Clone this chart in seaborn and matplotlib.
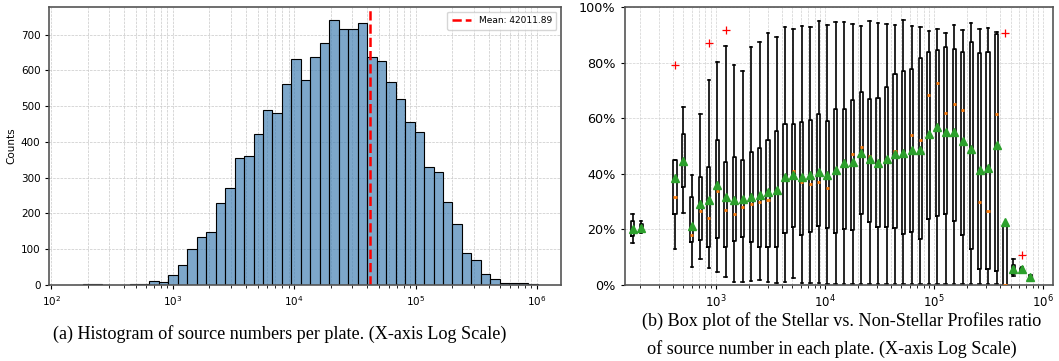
import numpy as np
import matplotlib
matplotlib.use('Agg')
import matplotlib.pyplot as plt
import seaborn as sns
from matplotlib.ticker import PercentFormatter, LogLocator


# ---------------------------------------------- Data -----------------------------------------------

# (a) histogram: counts per log bin of source numbers
hist_lo, hist_hi = 2.183, 6.006     # log10 range of the bins
hist_counts = [0, 2, 2, 0, 0, 0, 3, 2, 11, 9,
               27, 56, 100, 134, 147, 228, 270, 354, 360, 423,
               490, 482, 561, 632, 573, 637, 677, 740, 716, 717,
               733, 637, 627, 567, 520, 455, 429, 330, 316, 232,
               170, 90, 70, 30, 16, 5, 5, 5, 2]
mean_sources = 42011.89

# (b) box plot: stellar / non-stellar ratio (%) per log bin of source number
ratio_first, ratio_step = 2.236, 0.07755   # log10 centre of bin 0 and bin step
box_bin = [0, 1, 5, 6, 7, 8, 9, 10, 11, 12, 13, 14, 15, 16, 17, 18, 19, 20, 21, 22,
           23, 24, 25, 26, 27, 28, 29, 30, 31, 32, 33, 34, 35, 36, 37, 38, 39, 40,
           41, 42, 43, 44, 45, 46, 47]
whis_low = [15.2, 18.6, 12.8, 25.8, 6.4, 9.4, 6.0, 4.6, 2.8, 1.0, 1.0, 1.6, 1.8, 1.2, 0.6,
            1.2, 2.4, 0.6, 0.6, 0.6, 0.4, 0.4, 0.4, 0.4, 0.4, 0.4, 0.4, 0.4, 0.4, 0.4,
            0.4, 0.4, 0.4, 0.4, 0.4, 0.4, 0.4, 0.4, 0.4, 0.4, 0.4, 0.0, 3.2, 4.5, 2.0]
q1 = [17.6, 19.8, 25.5, 35.4, 15.4, 16.2, 13.8, 16.8, 13.8, 16.0, 17.2, 15.4, 13.8, 13.6, 13.6,
      18.6, 21.0, 18.0, 19.0, 21.4, 20.4, 18.8, 20.3, 19.8, 25.5, 22.6, 21.0, 21.0, 20.6, 18.4,
      19.0, 16.4, 23.8, 25.0, 25.7, 23.0, 18.0, 13.0, 5.6, 5.9, 5.0, 0.0, 4.0, 5.0, 2.5]
median = [19.5, 20.5, 31.8, 44.5, 18.1, 26.8, 24.2, 33.7, 27.0, 25.6, 27.9, 29.2, 29.8, 30.6, 33.0,
          38.5, 41.1, 37.0, 36.3, 37.2, 34.8, 41.0, 43.5, 47.3, 49.5, 46.5, 44.0, 45.5, 48.3, 47.5,
          54.0, 52.1, 68.3, 72.7, 61.9, 65.2, 63.0, 49.0, 29.7, 26.5, 61.6, 0.0, 5.5, 5.5, 2.8]
q3 = [23.0, 22.0, 45.0, 54.3, 31.8, 38.9, 42.3, 52.1, 44.4, 46.0, 45.0, 48.0, 49.2, 52.2, 55.5,
      57.9, 58.1, 58.6, 59.2, 61.6, 59.1, 63.3, 63.4, 66.4, 69.3, 67.0, 67.3, 71.4, 75.9, 77.1,
      77.8, 81.6, 83.8, 84.4, 85.5, 85.0, 84.0, 87.6, 83.4, 83.9, 90.3, 21.2, 7.2, 6.0, 3.2]
whis_high = [25.5, 23.0, 45.0, 64.0, 39.5, 61.7, 73.6, 80.1, 86.1, 79.2, 77.1, 85.5, 87.3, 90.6, 89.4,
             92.7, 92.1, 93.0, 92.8, 94.8, 93.6, 94.5, 94.5, 94.0, 93.3, 94.8, 94.2, 94.0, 93.6, 95.4,
             93.0, 92.7, 91.5, 92.2, 90.8, 93.4, 91.7, 94.2, 92.2, 92.4, 91.0, 21.2, 9.2, 6.5, 3.5]
mean_ratio = [20.0, 20.6, 38.4, 44.7, 21.2, 29.2, 30.6, 35.9, 31.5, 30.6, 31.0, 31.8, 32.4, 33.6, 34.3,
              38.8, 39.6, 39.0, 39.4, 40.5, 39.4, 41.4, 43.8, 44.1, 47.4, 45.4, 43.8, 45.4, 47.1, 47.4,
              48.4, 48.4, 54.4, 56.8, 55.2, 55.2, 51.9, 48.9, 41.2, 42.0, 50.2, 22.8, 5.6, 5.6, 2.8]
outliers = {5: [79.2], 9: [87.0], 11: [91.8], 44: [90.6], 46: [10.8]}


# ---------------------------------------------- Figure -----------------------------------------------

fig = plt.figure(figsize=(10.59, 3.61), dpi=100)
ax1 = fig.add_axes([0.0467, 0.2105, 0.4830, 0.770])
ax2 = fig.add_axes([0.5899, 0.2105, 0.4042, 0.770])

# (a) Histogram
n_bins = len(hist_counts)
log_edges = np.linspace(hist_lo, hist_hi, n_bins + 1)
centers = 10 ** ((log_edges[:-1] + log_edges[1:]) / 2)
sns.histplot(x=centers, weights=hist_counts, bins=n_bins, binrange=(hist_lo, hist_hi),
             log_scale=True, color='steelblue', alpha=0.7, edgecolor='black',
             linewidth=0.8, ax=ax1)
ax1.axvline(mean_sources, color='red', linestyle='--', linewidth=1.8,
            label=f'Mean: {mean_sources:.2f}')
ax1.set_xlim(10 ** 1.985, 10 ** 6.197)
ax1.set_ylim(0, 777)
ax1.set_yticks(range(0, 701, 100))
ax1.set_ylabel('Counts', fontsize=7.5, labelpad=3)
ax1.set_xlabel('')
ax1.tick_params(labelsize=7.5, length=3)
ax1.grid(True, which='both', linestyle='--', linewidth=0.5, color='#c8c8c8')
ax1.set_axisbelow(True)
ax1.legend(loc='upper right', fontsize=6.5, handlelength=2.2, borderpad=0.5)

# (b) Box plot
ax2.set_xscale('log')
stats = []
for k, j in enumerate(box_bin):
    stats.append({'whislo': whis_low[k], 'q1': q1[k], 'med': median[k], 'q3': q3[k],
                  'whishi': whis_high[k], 'mean': mean_ratio[k],
                  'fliers': outliers.get(j, [])})
positions = 10 ** (ratio_first + ratio_step * np.array(box_bin))
widths = positions * (10 ** 0.0145 - 10 ** -0.0145)
ax2.bxp(stats, positions=positions, widths=widths, capwidths=widths * 0.8,
        showmeans=True, manage_ticks=False,
        boxprops=dict(color='black', linewidth=1.2),
        whiskerprops=dict(color='black', linewidth=1.2),
        capprops=dict(color='black', linewidth=1.2),
        medianprops=dict(color='#ff7f0e', linewidth=2.0, solid_capstyle='butt', zorder=3),
        meanprops=dict(marker='^', markerfacecolor='#2ca02c', markeredgecolor='#2ca02c',
                       markersize=6, zorder=4),
        flierprops=dict(marker='+', markeredgecolor='red', markersize=6, markeredgewidth=0.9))
ax2.set_xlim(10 ** 2.163, 10 ** 6.086)
ax2.set_ylim(0, 100)
ax2.yaxis.set_major_formatter(PercentFormatter(xmax=100, decimals=0))
ax2.set_yticks(range(0, 101, 20))
ax2.xaxis.set_major_locator(LogLocator(base=10))
ax2.tick_params(axis='y', labelsize=9.2, length=3)
ax2.tick_params(axis='x', labelsize=8.5, length=3)
ax2.grid(True, which='both', linestyle='--', linewidth=0.5, color='#d0d0d0')
ax2.set_axisbelow(True)

for ax in (ax1, ax2):
    for s in ax.spines.values():
        s.set_color('#555555')
        s.set_linewidth(1.2)

# Captions
cap = dict(family='Liberation Serif', fontsize=13.1, ha='center', va='center')
fig.text(280 / 1059, 1 - 334 / 361,
         '(a) Histogram of source numbers per plate. (X-axis Log Scale)', **cap)
fig.text(842 / 1059, 1 - 321 / 361,
         '(b) Box plot of the Stellar vs. Non-Stellar Profiles ratio', **cap)
fig.text(832 / 1059, 1 - 349 / 361,
         'of source number in each plate. (X-axis Log Scale)', **cap)

fig.savefig('out.png', dpi=100)
